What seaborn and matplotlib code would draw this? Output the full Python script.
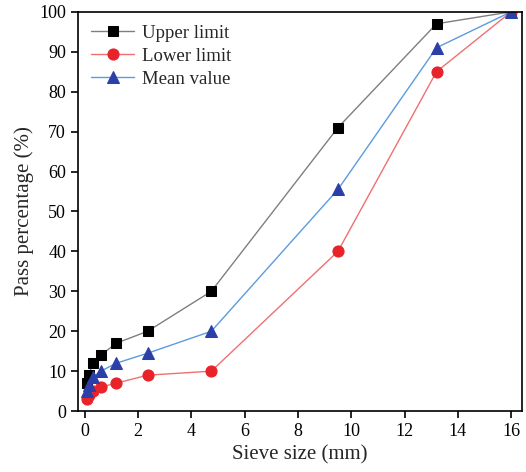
import pandas as pd
import numpy as np
import seaborn as sns
import matplotlib.pyplot as plt

sieve = [0.075, 0.15, 0.3, 0.6, 1.18, 2.36, 4.75, 9.5, 13.2, 16]
upper = [7, 9, 12, 14, 17, 20, 30, 71, 97, 100]
lower = [3, 4, 5, 6, 7, 9, 10, 40, 85, 100]
mean = [5, 6.5, 8.5, 10, 12, 14.5, 20, 55.5, 91, 100]

sns.set_style('ticks')
plt.rcParams['font.family'] = ['Liberation Serif', 'DejaVu Serif']

df = pd.DataFrame({'Sieve': sieve, 'Upper': upper, 'Lower': lower, 'Mean': mean})

fig = plt.figure(figsize=(5.26, 4.72), dpi=100)
ax = fig.add_axes([0.148, 0.129, 0.844, 0.846])

# lines thin and light, markers solid
sns.lineplot(x='Sieve', y='Upper', data=df, ax=ax, label='Upper limit', color='#7f7f7f',
             lw=1, marker='s', markersize=7, markerfacecolor='black', markeredgecolor='black')
sns.lineplot(x='Sieve', y='Lower', data=df, ax=ax, label='Lower limit', color='#f07070',
             lw=1, marker='o', markersize=8, markerfacecolor='#e8232a', markeredgecolor='#e8232a')
sns.lineplot(x='Sieve', y='Mean', data=df, ax=ax, label='Mean value', color='#5b9be0',
             lw=1, marker='^', markersize=8, markerfacecolor='#2b3fa8', markeredgecolor='#2b3fa8')

ax.set_xlim(-0.26, 16.4)
ax.set_ylim(0, 100)
ax.set_xticks(np.arange(0, 17, 2))
ax.set_yticks(np.arange(0, 101, 10))
ax.tick_params(labelsize=13, length=5, width=1.2, direction='out', colors='black')
for s in ax.spines.values():
    s.set_linewidth(1.2)
    s.set_color('black')
ax.set_xlabel('Sieve size (mm)', fontsize=15)
ax.set_ylabel('Pass percentage (%)', fontsize=15)
ax.legend(loc='upper left', frameon=False, fontsize=13.5, handlelength=2.3,
          handletextpad=0.4, borderaxespad=0.3, labelspacing=0.3)

fig.savefig('out.png', dpi=100)
